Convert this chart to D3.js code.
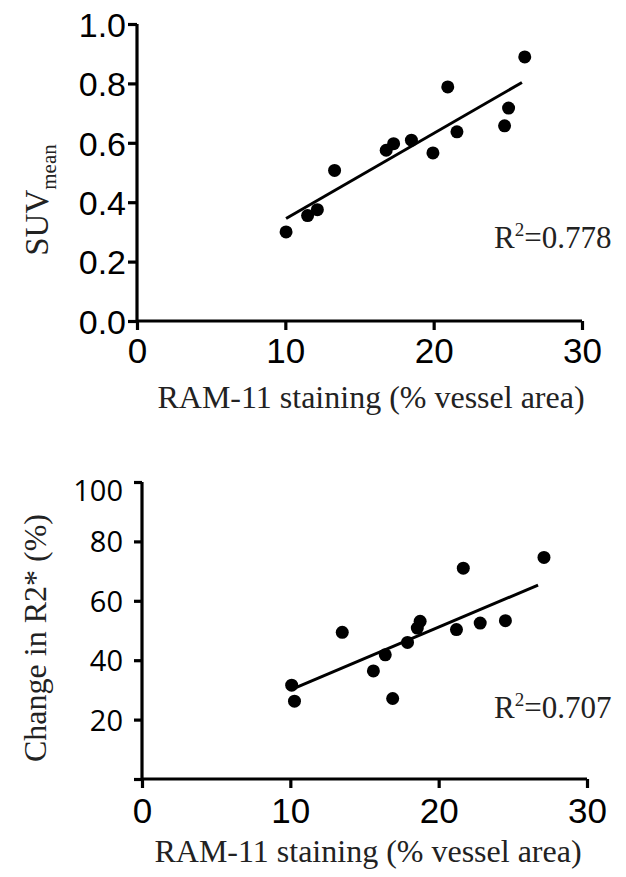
<!DOCTYPE html>
<html><head><meta charset="utf-8">
<script src="https://cdn.jsdelivr.net/npm/d3@7"></script>
<style>body{margin:0;background:#fff}svg{display:block}</style>
</head><body>
<script>
// Top panel: SUVmean vs RAM-11 staining
const topX = [10.05, 11.5, 12.16, 13.32, 16.8, 17.3, 18.5, 19.95, 20.95, 21.57, 24.78, 25.05, 26.14];
const topY = [0.30, 0.355, 0.375, 0.507, 0.575, 0.597, 0.609, 0.566, 0.788, 0.637, 0.657, 0.717, 0.889];
const topFitX = [10.05, 25.95];
const topFitY = [0.345, 0.803];
const topYTicks = [0.0, 0.2, 0.4, 0.6, 0.8, 1.0];
const xTicks = [0, 10, 20, 30];
const topR2 = "0.778";

// Bottom panel: Change in R2* vs RAM-11 staining
const botX = [10.09, 10.28, 13.5, 15.6, 16.4, 16.9, 17.9, 18.56, 18.75, 21.2, 21.66, 22.8, 24.5, 27.1];
const botY = [31.6, 26.2, 49.4, 36.4, 41.8, 27.1, 46.0, 50.8, 53.1, 50.3, 71.0, 52.5, 53.3, 74.6];
const botFitX = [10.09, 26.7];
const botFitY = [30.2, 65.3];
const botYTicks = [0, 20, 40, 60, 80, 100];
const botYLabels = ["", "20", "40", "60", "80", "100"];
const botR2 = "0.707";

const W = 626, H = 877;
const svg = d3.select("body").append("svg").attr("width", W).attr("height", H);
const SERIF = "Liberation Serif, Times New Roman, serif";

function panel(o) {
  const x = d3.scaleLinear().domain([0, 30]).range([o.x0, o.x1]);
  const y = d3.scaleLinear().domain(o.ydom).range([o.yb, o.yt]);
  const g = svg.append("g");
  const ya = g.append("g").attr("transform", `translate(${o.x0},0)`)
    .call(d3.axisLeft(y).tickValues(o.yticks).tickSize(o.ytick).tickPadding(o.ypad).tickFormat((d,i)=>o.ylabels[i]));
  const xa = g.append("g").attr("transform", `translate(0,${o.yb})`)
    .call(d3.axisBottom(x).tickValues(xTicks).tickSize(9).tickPadding(o.xpad).tickFormat(d3.format("d")));
  [ya, xa].forEach(a => {
    a.select(".domain").attr("stroke", "#000").attr("stroke-width", 3.2)
      .attr("d", a === ya ? `M0,${o.yb}V${o.yt}` : `M${o.x0},0H${o.x1}`);
    a.selectAll(".tick line").attr("stroke", "#000").attr("stroke-width", 3.2);
    a.selectAll("text").attr("fill", "#000");
  });
  ya.selectAll("text").attr("font-family", o.yfont).attr("font-size", o.yfs).attr("dy", (d, i) => o.ydy[i]);
  xa.selectAll("text").attr("font-family", "Liberation Sans, Arial, sans-serif").attr("font-size", 35).attr("dy", "0.71em");
  g.append("line")
    .attr("x1", x(o.fx[0])).attr("y1", y(o.fy[0]))
    .attr("x2", x(o.fx[1])).attr("y2", y(o.fy[1]))
    .attr("stroke", "#000").attr("stroke-width", 3);
  g.selectAll("circle.pt").data(o.px.map((v, i) => [v, o.py[i]])).join("circle")
    .attr("class", "pt").attr("cx", d => x(d[0])).attr("cy", d => y(d[1])).attr("r", 6.5).attr("fill", "#000");
  const t = g.append("text").attr("x", o.r2x).attr("y", o.r2y)
    .attr("font-family", SERIF).attr("font-size", 31).attr("fill", "#222");
  t.append("tspan").text("R");
  t.append("tspan").attr("font-size", 19).attr("dy", -12).text("2");
  t.append("tspan").attr("dy", 12).text("=" + o.r2);
  g.append("text").attr("x", o.xtx).attr("y", o.xty).attr("text-anchor", "middle")
    .attr("font-family", SERIF).attr("font-size", 32).attr("fill", "#222")
    .text("RAM-11 staining (% vessel area)");
  return g;
}

const g1 = panel({x0: 137, x1: 582, yt: 24, yb: 321, ydom: [0, 1], yticks: topYTicks,
  ylabels: topYTicks.map(d => d.toFixed(1)), yfont: "Liberation Sans, Arial, sans-serif", yfs: 34,
  ytick: 9, ypad: 2, ydy: topYTicks.map(() => "0.36em"), xpad: 8,
  px: topX, py: topY, fx: topFitX, fy: topFitY, r2: topR2, r2x: 494, r2y: 248, xtx: 371, xty: 408});
const yt1 = g1.append("text").attr("transform", "translate(48,200) rotate(-90)").attr("text-anchor", "middle")
  .attr("font-family", SERIF).attr("font-size", 33).attr("fill", "#222");
yt1.append("tspan").text("SUV");
yt1.append("tspan").attr("font-size", 21).attr("dy", 8).text("mean");

const g2 = panel({x0: 142, x1: 587, yt: 482, yb: 779, ydom: [0, 100], yticks: botYTicks,
  ylabels: botYLabels, yfont: "Open Sans, sans-serif", yfs: 29,
  ytick: 8, ypad: 11, ydy: ["0.36em", "0.36em", "0.36em", "0.36em", "0.36em", "0.64em"], xpad: 10,
  px: botX, py: botY, fx: botFitX, fy: botFitY, r2: botR2, r2x: 494, r2y: 718, xtx: 368, xty: 862});
g2.append("text").attr("transform", "translate(46,638) rotate(-90)").attr("text-anchor", "middle")
  .attr("font-family", SERIF).attr("font-size", 32).attr("fill", "#222")
  .text("Change in R2* (%)");
</script>
</body></html>
